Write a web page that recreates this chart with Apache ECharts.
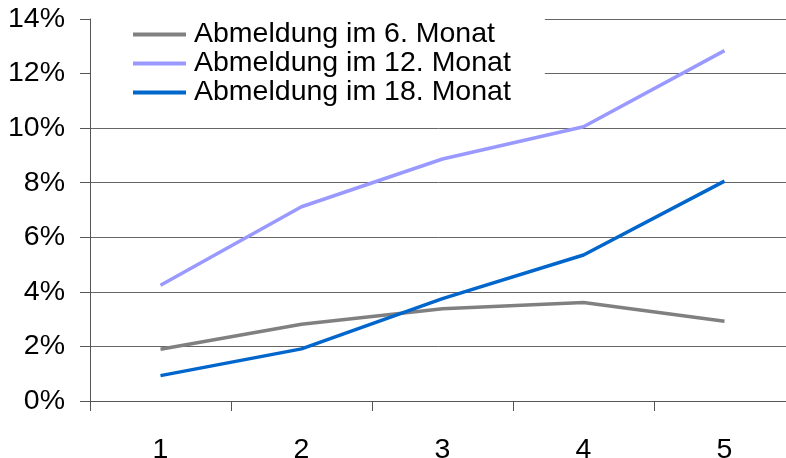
<!DOCTYPE html>
<html>
<head>
<meta charset="utf-8">
<script src="https://cdn.jsdelivr.net/npm/echarts@6/dist/echarts.min.js"></script>
<style>html,body{margin:0;padding:0;background:#fff}#c{width:786px;height:458px}</style>
</head>
<body>
<div id="c"></div>
<script>
var categories = ['1', '2', '3', '4', '5'];
var seriesNames = ['Abmeldung im 6. Monat', 'Abmeldung im 12. Monat', 'Abmeldung im 18. Monat'];
var month6 = [1.90, 2.81, 3.38, 3.61, 2.92];
var month12 = [4.24, 7.12, 8.87, 10.05, 12.84];
var month18 = [0.93, 1.91, 3.75, 5.35, 8.06];
var yTicks = [0, 2, 4, 6, 8, 10, 12, 14];
var colors = ['#808080', '#9999ff', '#0066cc'];

var chart = echarts.init(document.getElementById('c'));
var font = 'Liberation Sans, Arial, sans-serif';
var fs = 28.5;
function mk(name, data, color) {
  return {
    name: name, type: 'line', data: data, symbol: 'none',
    lineStyle: {color: color, width: 3.5}, itemStyle: {color: color}, z: 3
  };
}
chart.setOption({
  animation: false,
  backgroundColor: '#fff',
  grid: {left: 90, top: 19, width: 705, height: 382, containLabel: false, outerBoundsMode: 'none'},
  legend: {
    orient: 'vertical', left: 91, top: 14,
    padding: [6, 34, 2, 42],
    backgroundColor: '#fff',
    itemGap: 0, itemWidth: 53, itemHeight: 27,
    icon: 'path://M0,11.5L53,11.5L53,15.5L0,15.5Z',
    textStyle: {fontFamily: font, fontSize: fs, lineHeight: 27, color: '#000', padding: [0, 0, 0, 3]},
    data: seriesNames
  },
  xAxis: {
    type: 'category', data: categories, boundaryGap: true,
    axisLine: {lineStyle: {color: '#555', width: 1}},
    axisTick: {show: true, length: 10, lineStyle: {color: '#555'}},
    axisLabel: {fontFamily: font, fontSize: fs, color: '#000', margin: 35}
  },
  yAxis: {
    type: 'value', min: yTicks[0], max: yTicks[yTicks.length - 1], interval: 2,
    axisLine: {show: true, lineStyle: {color: '#555', width: 1}},
    axisTick: {show: true, length: 10, lineStyle: {color: '#555'}},
    axisLabel: {fontFamily: font, fontSize: fs, color: '#000', margin: 25, formatter: '{value}%'},
    splitLine: {show: true, lineStyle: {color: '#666', width: 1}}
  },
  series: [
    mk(seriesNames[0], month6, colors[0]),
    mk(seriesNames[1], month12, colors[1]),
    mk(seriesNames[2], month18, colors[2])
  ]
});
</script>
</body>
</html>
